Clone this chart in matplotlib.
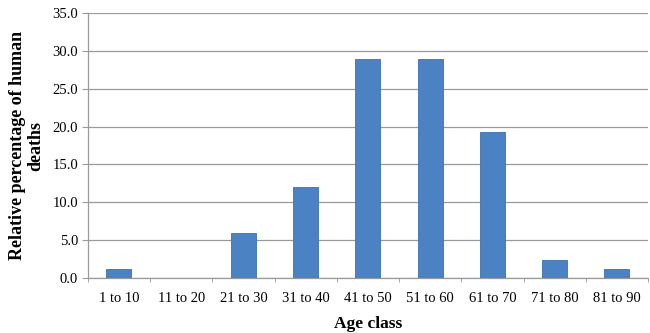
import numpy as np
import matplotlib
matplotlib.use('agg')
import matplotlib.pyplot as plt
from matplotlib.ticker import FixedLocator

# age classes and share of deaths (%)
age_classes = ['1 to 10', '11 to 20', '21 to 30', '31 to 40', '41 to 50',
               '51 to 60', '61 to 70', '71 to 80', '81 to 90']
death_pct = [1.2, 0.0, 6.0, 12.0, 28.9, 28.9, 19.3, 2.4, 1.2]
y_ticks = [0, 5, 10, 15, 20, 25, 30, 35]

plt.rcParams['font.family'] = ['Liberation Serif', 'DejaVu Serif']

fig = plt.figure(figsize=(6.5, 3.33), dpi=100)
ax = fig.add_axes([0.135, 0.165, 0.862, 0.796])

x = np.arange(len(age_classes))
ax.bar(x, death_pct, width=0.4, color='#4A82C4', edgecolor='#3D70AE',
       linewidth=0.6, zorder=3)

ax.set_xlim(-0.5, len(age_classes) - 0.5)
ax.set_ylim(0, 35)
ax.set_yticks(y_ticks)
ax.set_yticklabels([f'{v:.1f}' for v in y_ticks])
ax.set_xticks(x)
ax.set_xticklabels(age_classes)
ax.xaxis.set_minor_locator(FixedLocator(np.arange(-0.5, len(age_classes), 1.0)))

ax.grid(axis='y', color='#9a9a9a', linewidth=0.9, zorder=0)
for side in ('top', 'right'):
    ax.spines[side].set_visible(False)
for side in ('left', 'bottom'):
    ax.spines[side].set_color('#9a9a9a')
    ax.spines[side].set_linewidth(0.9)

ax.tick_params(axis='y', length=4, color='#9a9a9a', labelsize=10.5, pad=3)
ax.tick_params(axis='x', which='major', length=0, labelsize=10.5, pad=10)
ax.tick_params(axis='x', which='minor', length=3, color='#9a9a9a')

ax.set_ylabel('Relative percentage of human\ndeaths', fontsize=13,
              fontweight='bold', labelpad=6, linespacing=1.05)
ax.set_xlabel('Age class', fontsize=12.5, fontweight='bold', labelpad=8)

fig.savefig('out.png', dpi=100)
